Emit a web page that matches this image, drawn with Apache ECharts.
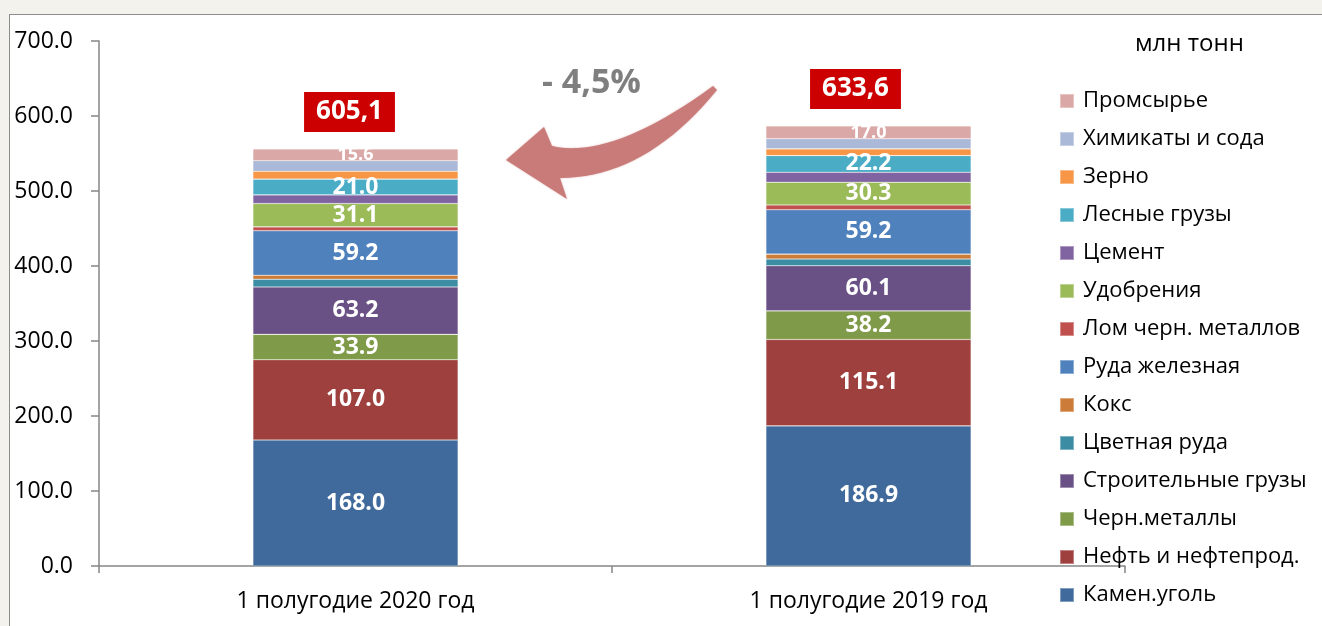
<!DOCTYPE html>
<html>
<head>
<meta charset="utf-8">
<script src="https://cdn.jsdelivr.net/npm/echarts@6/dist/echarts.min.js"></script>
<style>
    html, body {
        margin: 0;
        padding: 0;
        width: 1322px;
        height: 626px;
        background: #f4f2ec;
        overflow: hidden;
    }
    .frame {
        position: absolute;
        left: 9px;
        top: 14px;
        width: 1330px;
        height: 640px;
        background: #fff;
        border: 1px solid #8c8c8c;
    }
    #chart {
        position: absolute;
        left: 0;
        top: 0;
        width: 1322px;
        height: 626px;
    }
</style>
</head>
<body>
<div class="frame"></div>
<div id="chart"></div>
<script>
// категории
let categories = ['1 полугодие 2020 год', '1 полугодие 2019 год']

// грузы (снизу вверх по стеку)
let cargoNames = ['Камен.уголь', 'Нефть и нефтепрод.', 'Черн.металлы', 'Строительные грузы',
    'Цветная руда', 'Кокс', 'Руда железная', 'Лом черн. металлов', 'Удобрения', 'Цемент',
    'Лесные грузы', 'Зерно', 'Химикаты и сода', 'Промсырье']

// значения, млн тонн
let y2020 = [168.0, 107.0, 33.9, 63.2, 10.3, 5.3, 59.2, 5.3, 31.1, 11.5, 21.0, 10.5, 14.1, 15.6]
let y2019 = [186.9, 115.1, 38.2, 60.1, 9.0, 6.5, 59.2, 6.4, 30.3, 13.3, 22.2, 9.0, 13.4, 17.0]

// итоги над столбцами
let totals = ['605,1', '633,6']
let changeText = '- 4,5%'

// деления оси Y
let yMin = 0
let yMax = 700
let yStep = 100

//цвета
let colors = ['#416a9c', '#9e413e', '#7f9a48', '#695185', '#3c8da3', '#cc7b38', '#4f81bd',
    '#c0504d', '#9bbb59', '#8064a2', '#4bacc6', '#f79646', '#aab9d8', '#d9a8a7']

// у каких грузов подпись
let showLabel = [true, true, true, true, false, false, true, false, true, false, true, false, false, true]

let font = '"Open Sans", "Noto Sans", sans-serif'

let myChart = echarts.init(document.getElementById('chart'))

let series = cargoNames.map((name, i) => {
    return {
        name: name,
        type: 'bar',
        stack: 'total',
        barCategoryGap: '60%',
        data: [y2020[i], y2019[i]],
        itemStyle: {
            color: colors[i],
            borderColor: 'rgba(255,255,255,0.35)',
            borderWidth: 0.6
        },
        label: {
            show: showLabel[i],
            position: 'inside',
            color: '#fff',
            fontWeight: 'bold',
            fontFamily: font,
            fontSize: i === 13 ? 18 : 23,
            formatter: (p) => p.value.toFixed(1)
        }
    }
})

// итог: пустой столбик сверху стека, только подпись
series.push({
    name: 'итог',
    type: 'bar',
    stack: 'total',
    data: [
        { value: 0, label: { offset: [-6, 0] } },
        { value: 0, label: { offset: [-13, 0] } }
    ],
    itemStyle: { color: 'transparent' },
    label: {
        show: true,
        position: 'top',
        distance: 17,
        color: '#fff',
        backgroundColor: '#cc0000',
        fontWeight: 'bold',
        fontFamily: font,
        fontSize: 26,
        lineHeight: 28,
        padding: [6, 12, 6, 12],
        formatter: (p) => totals[p.dataIndex]
    },
    silent: true
})

// изогнутая стрелка
let arrowPoints = () => {
    let quad = (p0, c, p2, n) => {
        let pts = []
        for (let k = 0; k <= n; k++) {
            let t = k / n
            let a = (1 - t) * (1 - t), b = 2 * (1 - t) * t, d = t * t
            pts.push([a * p0[0] + b * c[0] + d * p2[0], a * p0[1] + b * c[1] + d * p2[1]])
        }
        return pts
    }
    let upper = quad([713, 86], [612, 160], [552, 146], 20)
    let lower = quad([560, 178], [645, 178], [717, 90], 20)
    return upper.concat([[544, 127], [506, 160], [567, 199]]).concat(lower)
}

let option = {
    animation: false,
    textStyle: { fontFamily: font },
    grid: {
        left: 99,
        right: 197,
        top: 41,
        bottom: 60
    },
    legend: {
        data: cargoNames.slice().reverse(),
        orient: 'vertical',
        left: 1059,
        top: 90,
        padding: 0,
        icon: 'rect',
        itemWidth: 14,
        itemHeight: 14,
        itemGap: 16,
        textStyle: {
            color: '#000',
            fontSize: 22,
            lineHeight: 22,
            fontFamily: font,
            padding: [0, 0, 0, 4]
        }
    },
    xAxis: {
        type: 'category',
        data: categories,
        axisLine: { lineStyle: { color: '#868686', width: 1.5 } },
        axisTick: { show: true, length: 7, lineStyle: { color: '#868686', width: 1.5 } },
        axisLabel: {
            color: '#000',
            fontSize: 23,
            margin: 24,
            fontFamily: font
        }
    },
    yAxis: {
        type: 'value',
        min: yMin,
        max: yMax,
        interval: yStep,
        axisLine: { show: true, lineStyle: { color: '#868686', width: 1.5 } },
        axisTick: { show: true, inside: false, length: 8, lineStyle: { color: '#868686', width: 1.5 } },
        splitLine: { show: false },
        axisLabel: {
            color: '#000',
            fontSize: 23,
            margin: 26,
            fontFamily: font,
            formatter: (v) => v.toFixed(1)
        }
    },
    graphic: [
        {
            type: 'text',
            left: 1135,
            top: 32,
            style: { text: 'млн тонн', fontSize: 24, fill: '#000', fontFamily: font }
        },
        {
            type: 'polygon',
            shape: { points: arrowPoints() },
            style: { fill: '#c97b79', shadowBlur: 2, shadowColor: 'rgba(201,123,121,0.6)' },
            silent: true
        },
        {
            type: 'text',
            left: 542,
            top: 66,
            style: { text: changeText, fontSize: 34, fontWeight: 'bold', fill: '#7f7f7f', fontFamily: font }
        }
    ],
    series: series
}

option && myChart.setOption(option)
window.addEventListener('resize', function () {
    myChart.resize()
})
</script>
</body>
</html>
